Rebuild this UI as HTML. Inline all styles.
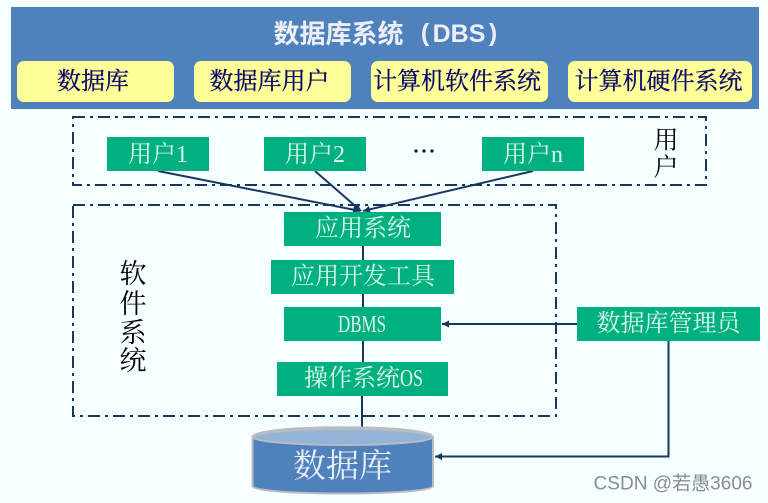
<!DOCTYPE html>
<html><head><meta charset="utf-8">
<style>
html,body{margin:0;padding:0;background:#f5ffff;width:768px;height:503px;overflow:hidden}
svg{display:block}
.s{font-family:"Liberation Serif","Noto Serif CJK SC",serif}
.t{text-anchor:middle;dominant-baseline:central}
.l{text-anchor:start;dominant-baseline:central}
.b{font-family:"Liberation Sans","Noto Sans CJK SC",sans-serif;font-weight:700;fill:#eeeef6}
</style></head><body>
<svg width="768" height="503" viewBox="0 0 768 503" xmlns="http://www.w3.org/2000/svg">
<defs>
<marker id="a" markerWidth="8" markerHeight="8" refX="7" refY="4" orient="auto" markerUnits="userSpaceOnUse"><path d="M0 0.500L7 4L0 7.500Z" fill="#17375e"/></marker>
</defs>
<rect width="768" height="503" fill="#f5ffff"/>
<rect x="11" y="7" width="748" height="102" fill="#4f81bd"/>
<text x="338.500" y="34" class="t b" font-size="26">数据库系统</text>
<text x="425" y="33" class="t b" font-size="25">(</text>
<text x="459" y="34" class="t b" font-size="25">DBS</text>
<text x="493" y="33" class="t b" font-size="25">)</text>
<g fill="#ffff99">
<rect x="17" y="61" width="157" height="41" rx="7"/>
<rect x="194" y="61" width="157" height="41" rx="7"/>
<rect x="371" y="61" width="177" height="41" rx="7"/>
<rect x="568" y="61" width="184" height="41" rx="7"/>
</g>
<g font-size="24" fill="#0a0a6e" stroke="#0a0a6e" stroke-width="0.300">
<text class="s t" x="93" y="82">数据库</text>
<text class="s t" x="269.500" y="82">数据库用户</text>
<text class="s t" x="457" y="82">计算机软件系统</text>
<text class="s t" x="658.500" y="82">计算机硬件系统</text>
</g>
<g fill="none" stroke="#17375e" stroke-width="2" stroke-dasharray="12 5 3 5">
<rect x="73" y="117" width="633" height="68"/>
<rect x="73" y="205" width="483" height="211"/>
</g>
<g fill="none" stroke="#17375e" stroke-width="2">
<line x1="158" y1="171" x2="360" y2="211" marker-end="url(#a)"/>
<line x1="315" y1="171" x2="361" y2="211" marker-end="url(#a)"/>
<line x1="533" y1="171" x2="363" y2="211" marker-end="url(#a)"/>
<line x1="363" y1="246" x2="363" y2="260"/>
<line x1="363" y1="294" x2="363" y2="307"/>
<line x1="363" y1="341" x2="363" y2="362"/>
<line x1="362" y1="396" x2="362" y2="430"/>
<line x1="577" y1="324" x2="442" y2="324" marker-end="url(#a)"/>
<path d="M668.500 341V456.500H435" marker-end="url(#a)"/>
</g>
<g fill="#00b080">
<rect x="107" y="137" width="102" height="34"/>
<rect x="264" y="137" width="102" height="34"/>
<rect x="482" y="137" width="102" height="34"/>
<rect x="284" y="212" width="157" height="34"/>
<rect x="271" y="260" width="183" height="34"/>
<rect x="284" y="307" width="157" height="34"/>
<rect x="277" y="362" width="171" height="34"/>
<rect x="577" y="307" width="183" height="34"/>
</g>
<g font-size="24" fill="#dff5e8">
<text class="s t" x="158" y="155">用户1</text>
<text class="s t" x="315" y="155">用户2</text>
<text class="s t" x="533" y="155">用户n</text>
<text class="s t" x="363" y="229">应用系统</text>
<text class="s t" x="363" y="277">应用开发工具</text>
<text class="s l" x="338" y="325" textLength="48" lengthAdjust="spacingAndGlyphs">DBMS</text>
<text class="s l" x="304" y="379">操作系统</text>
<text class="s l" x="400" y="379" textLength="23" lengthAdjust="spacingAndGlyphs">OS</text>
<text class="s t" x="668.500" y="324">数据库管理员</text>
</g>
<circle cx="416" cy="151" r="1.600" fill="#111"/><circle cx="424" cy="151" r="1.600" fill="#111"/><circle cx="432" cy="151" r="1.600" fill="#111"/>
<g font-size="25" fill="#000">
<text class="s t" x="666" y="141">用</text>
<text class="s t" x="666" y="168">户</text>
</g>
<g font-size="27" fill="#000">
<text class="s t" x="133" y="274">软</text>
<text class="s t" x="133" y="304">件</text>
<text class="s t" x="133" y="333">系</text>
<text class="s t" x="133" y="361">统</text>
</g>
<path d="M252.500 437C252.500 424 433 424 433 437V486C433 496 252.500 496 252.500 486Z" fill="#4f81bd" stroke="#b9bcc0" stroke-width="2"/>
<ellipse cx="342.750" cy="437" rx="90" ry="8" fill="#95b3d7" stroke="#b9bcc0" stroke-width="2"/>
<text class="s t" x="342.500" y="467" font-size="33" fill="#e9eef5">数据库</text>
<text x="673" y="484" class="t" font-family="'Liberation Sans','Noto Sans CJK SC',sans-serif" font-size="19" fill="#8c8c8c" textLength="159" lengthAdjust="spacingAndGlyphs">CSDN @若愚3606</text>
</svg>
</body></html>
